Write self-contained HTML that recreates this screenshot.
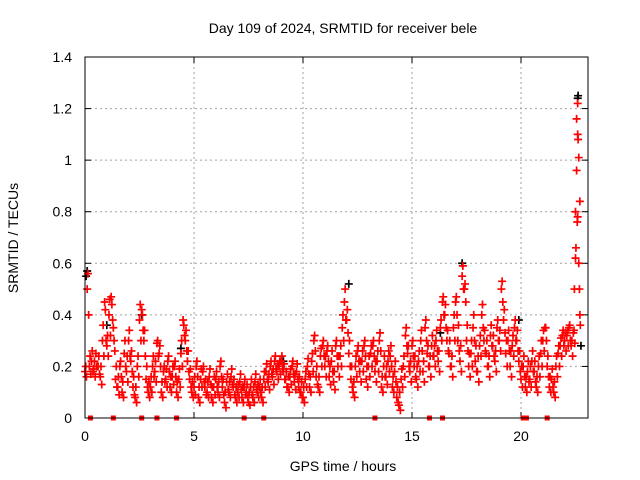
<!DOCTYPE html>
<html><head><meta charset="utf-8"><style>
html,body{margin:0;padding:0;background:#fff;}
svg{display:block;font-family:"Liberation Sans",sans-serif;}
</style></head><body>
<svg id="chart" width="640" height="480">
<text x="343" y="33" font-size="14" text-anchor="middle">Day 109 of 2024, SRMTID for receiver bele</text>
<g id="grid"></g>
<g id="ticks"></g>
<g id="marks"></g>
<rect x="85" y="57" width="503" height="361" fill="none" stroke="#000" stroke-width="1"/>
<text x="343" y="471" font-size="14" text-anchor="middle">GPS time / hours</text>
<text x="18" y="238" font-size="14" text-anchor="middle" transform="rotate(-90 18 238)">SRMTID / TECUs</text>
</svg>
<script>
const xTicks=[0,5,10,15,20];
const yTicks=[0,0.2,0.4,0.6,0.8,1,1.2,1.4];
const yTickLabels=["0","0.2","0.4","0.6","0.8","1","1.2","1.4"];
const redStart=0, redStep=0.1;
const redValues=[
0.18,0.5,0.2,0.22,0.19,0.25,0.2,0.16,0.3,0.45,
0.28,0.4,0.47,0.35,0.15,0.12,0.2,0.1,0.25,0.18,
0.3,0.22,0.12,0.08,0.2,0.38,0.42,0.3,0.15,0.1,
0.12,0.2,0.18,0.29,0.25,0.1,0.18,0.15,0.22,0.12,
0.16,0.2,0.1,0.15,0.25,0.38,0.3,0.22,0.15,0.1,
0.12,0.2,0.08,0.15,0.18,0.12,0.1,0.16,0.08,0.12,
0.15,0.1,0.2,0.12,0.06,0.14,0.1,0.16,0.12,0.08,
0.1,0.14,0.08,0.12,0.1,0.06,0.12,0.08,0.14,0.1,
0.12,0.08,0.15,0.18,0.14,0.2,0.16,0.22,0.18,0.2,
0.22,0.18,0.15,0.12,0.16,0.2,0.14,0.18,0.12,0.1,
0.08,0.15,0.2,0.12,0.22,0.3,0.16,0.12,0.24,0.28,
0.2,0.26,0.16,0.22,0.14,0.28,0.2,0.24,0.35,0.45,
0.38,0.25,0.15,0.1,0.2,0.26,0.18,0.22,0.28,0.15,
0.2,0.25,0.28,0.18,0.22,0.3,0.12,0.2,0.16,0.22,
0.24,0.12,0.18,0.08,0.05,0.15,0.2,0.32,0.25,0.18,
0.28,0.2,0.15,0.22,0.3,0.18,0.35,0.25,0.2,0.28,
0.24,0.3,0.22,0.35,0.45,0.4,0.3,0.25,0.2,0.35,
0.45,0.3,0.22,0.55,0.5,0.3,0.2,0.25,0.35,0.22,
0.18,0.28,0.4,0.3,0.25,0.2,0.32,0.28,0.22,0.35,
0.3,0.5,0.38,0.25,0.3,0.2,0.28,0.35,0.3,0.22,
0.15,0.2,0.12,0.18,0.15,0.22,0.18,0.12,0.2,0.25,
0.3,0.35,0.2,0.12,0.15,0.1,0.2,0.25,0.28,0.32,
0.3,0.32,0.35,0.28,0.33];
const redHighValues=[
0.2,0.56,0.24,0.26,0.22,0.2,0.24,0.2,0.36,0.42,
0.32,0.46,0.44,0.3,0.2,0.16,0.22,0.14,0.3,0.24,
0.34,0.26,0.16,0.12,0.24,0.44,0.4,0.34,0.2,0.14,
0.16,0.24,0.22,0.3,0.28,0.14,0.2,0.19,0.24,0.16,
0.2,0.22,0.14,0.19,0.3,0.36,0.34,0.26,0.19,0.14,
0.16,0.22,0.12,0.19,0.2,0.15,0.14,0.19,0.12,0.16,
0.18,0.14,0.22,0.15,0.1,0.17,0.14,0.19,0.15,0.12,
0.13,0.17,0.12,0.15,0.13,0.1,0.15,0.12,0.17,0.13,
0.15,0.12,0.18,0.21,0.17,0.22,0.19,0.24,0.21,0.22,
0.24,0.21,0.18,0.16,0.19,0.22,0.17,0.21,0.16,0.14,
0.12,0.18,0.23,0.16,0.25,0.32,0.2,0.16,0.27,0.3,
0.24,0.28,0.2,0.26,0.18,0.3,0.24,0.28,0.4,0.5,
0.42,0.3,0.2,0.14,0.24,0.28,0.22,0.26,0.3,0.2,
0.24,0.28,0.3,0.22,0.26,0.33,0.16,0.24,0.2,0.26,
0.28,0.16,0.22,0.12,0.1,0.19,0.24,0.35,0.28,0.22,
0.3,0.24,0.2,0.26,0.34,0.22,0.38,0.28,0.24,0.32,
0.28,0.34,0.26,0.38,0.47,0.44,0.34,0.3,0.24,0.4,
0.47,0.36,0.28,0.59,0.52,0.36,0.25,0.3,0.4,0.28,
0.24,0.32,0.44,0.34,0.3,0.24,0.36,0.32,0.26,0.38,
0.34,0.53,0.42,0.3,0.34,0.26,0.32,0.38,0.34,0.26,
0.2,0.24,0.16,0.22,0.2,0.26,0.22,0.16,0.24,0.3,
0.34,0.35,0.24,0.16,0.19,0.14,0.24,0.28,0.31,0.34,
0.33,0.34,0.36,0.3,0.34];
const redLowValues=[
0.16,0.4,0.17,0.18,0.16,0.2,0.17,0.13,0.24,0.3,
0.24,0.32,0.38,0.26,0.12,0.09,0.16,0.08,0.2,0.14,
0.24,0.18,0.09,0.06,0.16,0.3,0.34,0.24,0.12,0.08,
0.1,0.16,0.14,0.24,0.2,0.08,0.14,0.12,0.18,0.1,
0.13,0.16,0.08,0.12,0.2,0.32,0.26,0.18,0.12,0.08,
0.09,0.16,0.06,0.12,0.14,0.09,0.08,0.13,0.06,0.09,
0.12,0.08,0.16,0.09,0.04,0.11,0.08,0.13,0.09,0.06,
0.08,0.11,0.06,0.09,0.08,0.05,0.09,0.06,0.11,0.08,
0.1,0.06,0.12,0.15,0.11,0.17,0.13,0.19,0.15,0.17,
0.19,0.15,0.12,0.1,0.13,0.17,0.11,0.15,0.1,0.08,
0.06,0.12,0.17,0.1,0.18,0.26,0.13,0.1,0.2,0.24,
0.16,0.22,0.13,0.18,0.11,0.24,0.16,0.2,0.3,0.38,
0.33,0.2,0.12,0.08,0.16,0.22,0.14,0.18,0.24,0.12,
0.16,0.2,0.24,0.14,0.18,0.26,0.1,0.16,0.13,0.18,
0.2,0.1,0.14,0.06,0.03,0.12,0.16,0.28,0.2,0.14,
0.24,0.16,0.12,0.18,0.26,0.14,0.3,0.2,0.16,0.24,
0.2,0.26,0.18,0.3,0.4,0.35,0.26,0.2,0.16,0.3,
0.4,0.26,0.18,0.5,0.45,0.26,0.16,0.2,0.3,0.18,
0.14,0.24,0.35,0.26,0.2,0.16,0.28,0.24,0.18,0.3,
0.26,0.45,0.33,0.2,0.26,0.16,0.24,0.3,0.26,0.18,
0.12,0.16,0.1,0.14,0.12,0.18,0.14,0.1,0.16,0.2,
0.26,0.3,0.16,0.1,0.12,0.08,0.16,0.2,0.24,0.28,
0.26,0.28,0.3,0.24,0.29];
const spikeTimes=[22.45,22.5,22.5,22.52,22.55,22.55,22.58,22.6,22.6,22.6,22.62,22.65,22.65,22.68,22.7,22.7,22.72];
const spikeValues=[0.5,0.62,0.8,0.66,0.96,1.16,0.76,1.22,1.1,0.78,1.08,1.01,0.6,0.5,0.4,0.84,0.36];
const blackTimes=[0.05,0.1,1.0,2.6,4.4,9.1,12.1,16.3,17.3,19.9,22.6,22.62,22.75];
const blackValues=[0.55,0.57,0.36,0.4,0.27,0.22,0.52,0.33,0.6,0.38,1.24,1.25,0.28];
const zeroTimes=[0.25,1.3,2.6,3.3,4.2,7.3,8.2,13.3,15.8,16.4,20.1,20.25,21.2];

const X0=85,PX=21.8,Y0=418,YMAX=1.4,YH=361;
const sx=t=>X0+t*PX, sy=v=>Y0-v/YMAX*YH;
const NS="http://www.w3.org/2000/svg";
function mk(tag,attrs,parent){const e=document.createElementNS(NS,tag);for(const k in attrs)e.setAttribute(k,attrs[k]);parent.appendChild(e);return e;}
const grid=document.getElementById('grid'),ticks=document.getElementById('ticks'),marks=document.getElementById('marks');
xTicks.forEach(t=>{
 const x=sx(t);
 if(t>0){const g=mk('line',{x1:x,x2:x,y1:57,y2:418,stroke:'#a0a0a0','stroke-dasharray':'2,3'},grid);
 
 }
 mk('line',{x1:x,x2:x,y1:418,y2:412,stroke:'#000'},ticks);
 mk('line',{x1:x,x2:x,y1:57,y2:63,stroke:'#000'},ticks);
 const l=mk('text',{x:x,y:441,'font-size':14,'text-anchor':'middle'},ticks);l.textContent=t;
 
 
});
yTicks.forEach((v,i)=>{
 const y=sy(v);
 if(v>0&&v<YMAX){const g=mk('line',{x1:85,x2:588,y1:y,y2:y,stroke:'#a0a0a0','stroke-dasharray':'2,3'},grid);
 
 }
 mk('line',{x1:85,x2:91,y1:y,y2:y,stroke:'#000'},ticks);
 mk('line',{x1:588,x2:582,y1:y,y2:y,stroke:'#000'},ticks);
 const l=mk('text',{x:72,y:y+5,'font-size':14,'text-anchor':'end'},ticks);l.textContent=yTickLabels[i];
 
 
});
function plus(t,v,color,name){
 const x=sx(t),y=sy(v);
 const p=mk('path',{d:`M${x-4},${y}H${x+4}M${x},${y-4}V${y+4}`,stroke:color,'stroke-width':1.7,fill:'none'},marks);
 
 
}
blackTimes.forEach((t,i)=>plus(t,blackValues[i],'#000','black-point'));
redValues.forEach((v,i)=>plus(redStart+i*redStep,v,'#ff0000','red-point'));
redHighValues.forEach((v,i)=>plus(redStart+i*redStep+0.033,v,'#ff0000','red-point'));
redLowValues.forEach((v,i)=>plus(redStart+i*redStep+0.067,v,'#ff0000','red-point'));
spikeTimes.forEach((t,i)=>plus(t,spikeValues[i],'#ff0000','red-spike-point'));
zeroTimes.forEach(t=>{
 const r=mk('rect',{x:sx(t)-2.5,y:Y0-2.5,width:5,height:5,fill:'#ff0000'},marks);
 
 
});
</script>
</body></html>
